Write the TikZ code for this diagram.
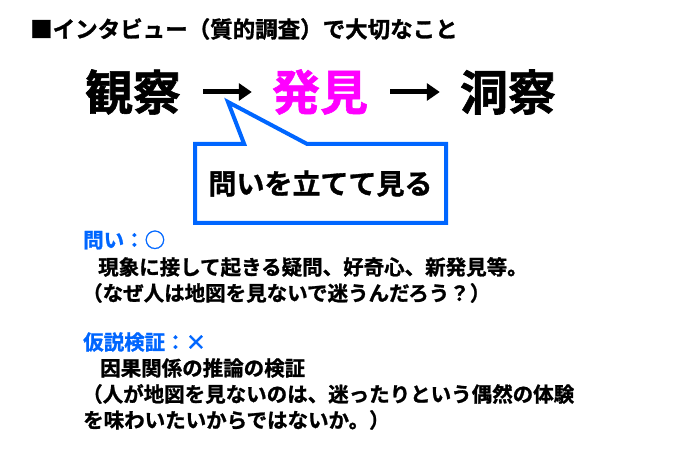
\documentclass[tikz,border=0pt]{standalone}
\usepackage{fontspec}
\setmainfont{Noto Sans CJK JP}[BoldFont={Noto Sans CJK JP Bold},BoldFeatures={FakeBold=1.2}]
\usetikzlibrary{arrows.meta}
\usetikzlibrary{shapes.callouts}
\definecolor{askblue}{RGB}{0,102,255}
\definecolor{findpink}{RGB}{255,0,255}
\tikzset{bigword/.style={inner sep=0,font=\fontsize{48}{52}\selectfont\bfseries},
    flow/.style={line width=5pt,-{Triangle[length=13pt,width=17pt]},shorten <=22pt,shorten >=20pt},
    askbox/.style={rectangle callout,draw=askblue,line width=4pt,minimum width=251pt,minimum height=79pt,
        callout pointer width=63pt,font=\fontsize{28}{32}\selectfont\bfseries},
    bodyline/.style={anchor=west,inner sep=0,font=\fontsize{20.5}{24}\selectfont\bfseries},
    headline/.style={bodyline,text=askblue}}

\begin{document}
\begin{tikzpicture}[x=1pt,y=-1pt]
    \useasboundingbox (0,0) rectangle (680,449);

    \node[anchor=west,inner sep=0,font=\fontsize{22.5}{26}\selectfont\bfseries] (title) at (30,29)
    {■インタビュー（質的調査）で大切なこと};

    % Main flow
    \node[bigword] (obs) at (133,92) {観察};
    \node[bigword,text=findpink] (find) at (320,92) {発見};
    \node[bigword] (ins) at (508,92) {洞察};
    \draw[flow] (obs) -- (find);
    \draw[flow] (find) -- (ins);

    % Callout
    \coordinate (tip) at (228,102);
    \node[askbox,callout absolute pointer={(tip)}] (ask) at (320.5,183.5) {問いを立てて見る};

    % Notes
    \node[headline] (qhead) at (83,240) {問い：○};
    \node[bodyline] (qa) at (98,267) {現象に接して起きる疑問、好奇心、新発見等。};
    \node[bodyline] (qb) at (82,293) {（なぜ人は地図を見ないで迷うんだろう？）};
    \node[headline] (hhead) at (83,342) {仮説検証：×};
    \node[bodyline] (ha) at (100,368) {因果関係の推論の検証};
    \node[bodyline] (hb) at (82,394) {（人が地図を見ないのは、迷ったりという偶然の体験};
    \node[bodyline] (hc) at (83,420) {を味わいたいからではないか。）};
\end{tikzpicture}
\end{document}
